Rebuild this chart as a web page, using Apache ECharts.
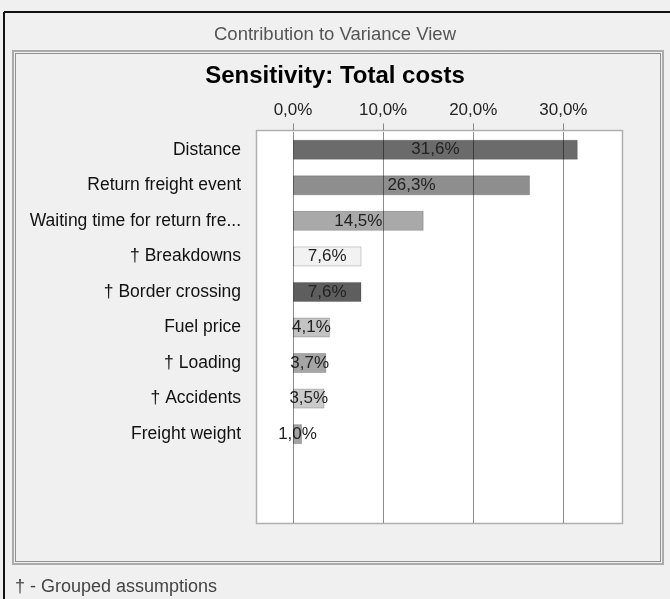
<!DOCTYPE html>
<html>
<head>
<meta charset="utf-8">
<script src="https://cdn.jsdelivr.net/npm/echarts@6/dist/echarts.min.js"></script>
<style>
html,body{margin:0;padding:0;background:#f0f0f0;}
#chart{width:670px;height:599px;}
</style>
</head>
<body>
<div id="chart"></div>
<script>
// Data
var categories = ["Distance", "Return freight event", "Waiting time for return fre...", "\u2020 Breakdowns", "\u2020 Border crossing", "Fuel price", "\u2020 Loading", "\u2020 Accidents", "Freight weight", "", ""];
var values = [31.6, 26.3, 14.5, 7.6, 7.6, 4.1, 3.7, 3.5, 1.0, null, null];
var barColors = ["#6b6b6b", "#8e8e8e", "#a9a9a9", "#f2f2f2", "#5e5e5e", "#c3c3c3", "#a5a5a5", "#cbcbcb", "#a3a3a3", "#ffffff", "#ffffff"];
var tickValues = [0, 10, 20, 30];
var headerText = "Contribution to Variance View";
var titleText = "Sensitivity: Total costs";
var footnoteText = "\u2020 - Grouped assumptions";

var FONT = "'Liberation Sans', Arial, sans-serif";
function pct(v){ return v.toFixed(1).replace('.', ',') + '%'; }

var chart = echarts.init(document.getElementById('chart'));
var seriesData = values.map(function(v, i){
  return { value: v, itemStyle: { color: barColors[i] } };
});

chart.setOption({
  backgroundColor: '#f0f0f0',
  animation: false,
  textStyle: { fontFamily: FONT },
  title: [
    { text: headerText, left: 'center', top: 20, textStyle: { fontFamily: FONT, fontSize: 18.5, fontWeight: 'normal', color: '#555555' } },
    { text: titleText, left: 'center', top: 59, textStyle: { fontFamily: FONT, fontSize: 24, fontWeight: 'bold', color: '#000000' } },
    { text: footnoteText, left: 10, top: 573, textStyle: { fontFamily: FONT, fontSize: 18, fontWeight: 'normal', color: '#444444' } }
  ],
  graphic: [
    { type: 'line', z: 0, shape: { x1: 4, y1: 12, x2: 670, y2: 12 }, style: { stroke: '#111', lineWidth: 2 } },
    { type: 'line', z: 0, shape: { x1: 4, y1: 12, x2: 4, y2: 599 }, style: { stroke: '#111', lineWidth: 2 } },
    { type: 'rect', z: 0, shape: { x: 13, y: 51, width: 650, height: 513 }, style: { fill: null, stroke: '#ababab', lineWidth: 2 } },
    { type: 'rect', z: 0, shape: { x: 15.5, y: 53.5, width: 645, height: 508 }, style: { fill: null, stroke: '#333', lineWidth: 1, lineDash: [1, 1] } },
    { type: 'rect', z: 0, shape: { x: 256.5, y: 130.5, width: 366, height: 393 }, style: { fill: '#ffffff', stroke: '#b0b0b0', lineWidth: 1.5 } }
  ],
  grid: { left: 293, right: 47.5, top: 132, bottom: 76, containLabel: false },
  xAxis: {
    type: 'value',
    position: 'top',
    offset: 1.5,
    min: 0,
    max: 36.56,
    interval: 10,
    z: 5,
    axisLine: { show: false },
    axisTick: { show: true, length: 7, lineStyle: { color: '#888' }, customValues: tickValues },
    axisLabel: { fontFamily: FONT, fontSize: 17, color: '#222', margin: 12, customValues: tickValues, formatter: function(v){ return pct(v); } },
    splitLine: { show: true, lineStyle: { color: 'rgba(0,0,0,0.45)', width: 1 } }
  },
  yAxis: {
    type: 'category',
    inverse: true,
    data: categories,
    axisLine: { show: false },
    axisTick: { show: false },
    axisLabel: { fontFamily: FONT, fontSize: 17.5, color: '#111', margin: 52 }
  },
  series: [{
    type: 'bar',
    data: seriesData,
    barWidth: 20,
    z: 2,
    itemStyle: { borderColor: 'rgba(0,0,0,0.18)', borderWidth: 1 },
    label: {
      show: true,
      position: 'inside',
      fontFamily: FONT,
      fontSize: 17,
      color: '#222',
      formatter: function(p){ return p.value == null ? '' : pct(p.value); }
    }
  }]
});
</script>
</body>
</html>
